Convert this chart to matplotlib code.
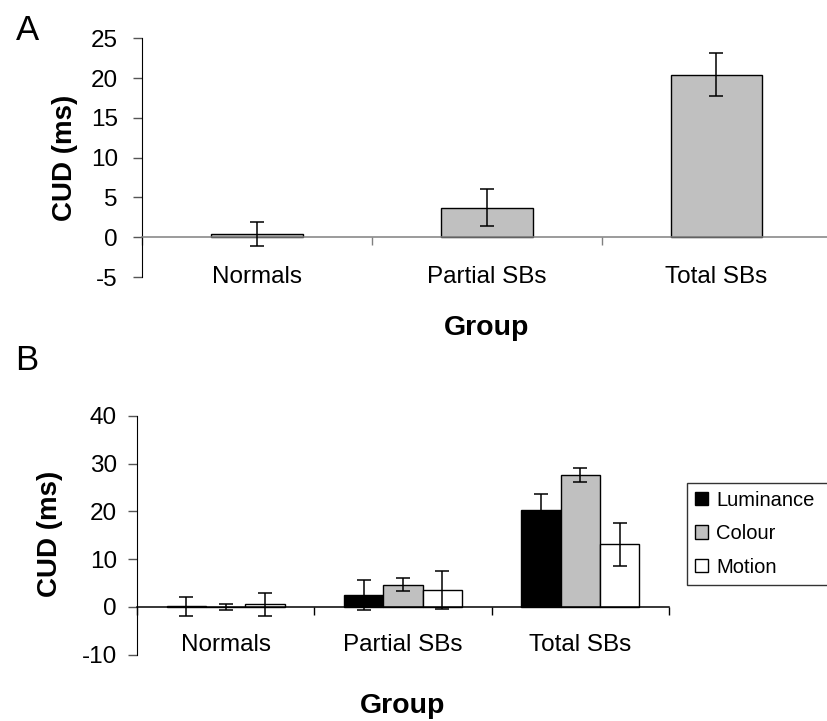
import numpy as np
import matplotlib.pyplot as plt

plt.rcParams['font.family'] = ['Liberation Sans', 'DejaVu Sans']
plt.rcParams['axes.unicode_minus'] = False

# --- Data ---
groups = ["Normals", "Partial SBs", "Total SBs"]

# panel A: overall CUD per group
cud_all = [0.4, 3.7, 20.4]
err_all = [1.5, 2.3, 2.7]

# panel B: CUD per stimulus type
conditions = ["Luminance", "Colour", "Motion"]
cud_lum = [0.1, 2.5, 20.4]
err_lum = [2.0, 3.1, 3.2]
cud_col = [0.05, 4.7, 27.6]
err_col = [0.65, 1.3, 1.45]
cud_mot = [0.6, 3.6, 13.1]
err_mot = [2.4, 4.0, 4.5]
cond_colors = ["#000000", "#C0C0C0", "#FFFFFF"]

W, H = 827, 721
fig = plt.figure(figsize=(W / 100, H / 100), dpi=100)

x = np.arange(len(groups))
bounds = np.arange(len(groups) + 1) - 0.5


def style_axis(ax, axis_col, ytick_pad, label_y):
    ax.spines["top"].set_visible(False)
    ax.spines["right"].set_visible(False)
    ax.spines["left"].set_color("black")
    ax.spines["bottom"].set_position(("data", 0))
    ax.spines["bottom"].set_color(axis_col)
    ax.spines["bottom"].set_linewidth(1.1)
    ax.set_xlim(bounds[0], bounds[-1])
    ax.set_xticks(bounds)
    ax.set_xticklabels([])
    ax.tick_params(axis="x", direction="out", length=6, width=1, color=axis_col)
    ax.tick_params(axis="y", direction="out", length=6.5, width=1, color="#555555",
                   labelsize=17.5, pad=ytick_pad)
    for i, g in enumerate(groups):
        ax.text(x[i], label_y, g, transform=ax.get_xaxis_transform(),
                ha="center", va="center", fontsize=17.5)
    ax.text(0.5, -0.243, "Group", transform=ax.transAxes, ha="center",
            va="baseline", fontsize=20.5, fontweight="bold")


# --- Panel A ---
axA = fig.add_axes([142.3 / W, 1 - 277 / H, 689 / W, (277 - 38.3) / H])
axA.bar(x, cud_all, width=0.4, color="#C0C0C0", edgecolor="black", linewidth=1.0, zorder=2)
axA.errorbar(x, cud_all, yerr=err_all, fmt="none", ecolor="black",
             elinewidth=1.1, capsize=4.8, capthick=1.1, zorder=3)
axA.set_ylim(-5, 25)
axA.set_yticks([-5, 0, 5, 10, 15, 20, 25])
style_axis(axA, "#808080", 11, 0.0)

# --- Panel B ---
axB = fig.add_axes([137 / W, 1 - 654.7 / H, 532 / W, (654.7 - 416) / H])
bw = 0.222
series = [(cud_lum, err_lum), (cud_col, err_col), (cud_mot, err_mot)]
for k, (vals, errs) in enumerate(series):
    pos = x + (k - 1) * bw
    axB.bar(pos, vals, width=bw, color=cond_colors[k], edgecolor="black",
            linewidth=1.0, label=conditions[k], zorder=2)
    axB.errorbar(pos, vals, yerr=errs, fmt="none", ecolor="black",
                 elinewidth=1.1, capsize=4.8, capthick=1.1, zorder=3)
axB.set_ylim(-10, 40)
axB.set_yticks([-10, 0, 10, 20, 30, 40])
style_axis(axB, "black", 8, 0.04)

leg = axB.legend(loc="upper left",
                 bbox_to_anchor=(687 / W, 1 - 587.7 / H, 150 / W, 105 / H),
                 bbox_transform=fig.transFigure, mode="expand", fontsize=14.5,
                 frameon=True, fancybox=False, edgecolor="black", borderpad=0.4,
                 handlelength=0.65, handleheight=0.65, handletextpad=0.4,
                 labelspacing=0.72, borderaxespad=0)
leg.get_frame().set_linewidth(1.0)

# --- labels ---
fig.text(64.5 / W, 1 - 157.5 / H, "CUD (ms)", rotation=90, ha="center", va="center",
         fontsize=20, fontweight="bold")
fig.text(50 / W, 1 - 534 / H, "CUD (ms)", rotation=90, ha="center", va="center",
         fontsize=20, fontweight="bold")
fig.text(27 / W, 1 - 30 / H, "A", ha="center", va="center", fontsize=25)
fig.text(27 / W, 1 - 360 / H, "B", ha="center", va="center", fontsize=25)

fig.savefig("out.png", dpi=100)
